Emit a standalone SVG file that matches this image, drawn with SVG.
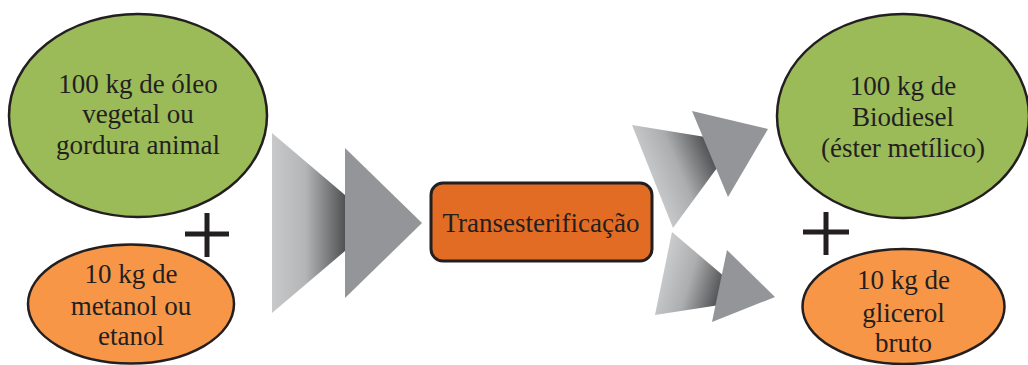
<svg xmlns="http://www.w3.org/2000/svg" width="1028" height="365" viewBox="0 0 1028 365" font-family="Liberation Serif">
  <style>
    text { font-size: 27px; fill: #231f20; }
    .green { fill: #9bbb59; stroke: #231f20; stroke-width: 2.5; }
    .orange { fill: #f79646; stroke: #231f20; stroke-width: 2.5; }
    .box { fill: #e36c25; stroke: #231f20; stroke-width: 3; }
    .plus { stroke: #231f20; stroke-width: 5; fill: none; }
    .solid { fill: #939598; }
  </style>
  <defs>
    <linearGradient id="shadeLeft" gradientUnits="userSpaceOnUse" x1="272" y1="0" x2="346" y2="0">
      <stop offset="0" stop-color="#c8c9cb"/>
      <stop offset="0.45" stop-color="#b4b5b7"/>
      <stop offset="1" stop-color="#4e4f51"/>
    </linearGradient>
    <linearGradient id="shadeUp" gradientUnits="userSpaceOnUse" x1="650" y1="178" x2="712" y2="152">
      <stop offset="0" stop-color="#c8c9cb"/>
      <stop offset="0.45" stop-color="#acadaf"/>
      <stop offset="1" stop-color="#4e4f51"/>
    </linearGradient>
    <linearGradient id="shadeDown" gradientUnits="userSpaceOnUse" x1="663" y1="273" x2="722" y2="291">
      <stop offset="0" stop-color="#c8c9cb"/>
      <stop offset="0.45" stop-color="#acadaf"/>
      <stop offset="1" stop-color="#4e4f51"/>
    </linearGradient>
  </defs>

  <!-- shaded double arrows: input to reactor, reactor to both products -->
  <g id="connectors">
    <polygon points="272,133 378,223 272,313" fill="url(#shadeLeft)"/>
    <polygon class="solid" points="345,148 422,223 345,298"/>
    <polygon points="632,125 736,142 673,228" fill="url(#shadeUp)"/>
    <polygon class="solid" points="692,111 768,129 728,197"/>
    <polygon points="672,232 752,300 655,315" fill="url(#shadeDown)"/>
    <polygon class="solid" points="727,250 775,297 712,322"/>
  </g>

  <g id="oleo">
    <ellipse class="green" cx="138" cy="115.5" rx="129" ry="101.5"/>
    <text x="138" y="93" text-anchor="middle" font-family="Liberation Serif">100 kg de óleo</text>
    <text x="138" y="123" text-anchor="middle" font-family="Liberation Serif">vegetal ou</text>
    <text x="138" y="154" text-anchor="middle" font-family="Liberation Serif">gordura animal</text>
  </g>

  <g id="plus-left">
    <path class="plus" d="M185 234 H229 M207 213 V257"/>
  </g>

  <g id="alcool">
    <ellipse class="orange" cx="131" cy="304" rx="103" ry="59.5"/>
    <text x="131" y="283" text-anchor="middle" font-family="Liberation Serif">10 kg de</text>
    <text x="131" y="315" text-anchor="middle" font-family="Liberation Serif">metanol ou</text>
    <text x="131" y="345" text-anchor="middle" font-family="Liberation Serif">etanol</text>
  </g>

  <g id="transesterificacao">
    <rect class="box" x="431" y="183" width="221" height="78" rx="12" ry="12"/>
    <text x="541" y="232" text-anchor="middle" font-family="Liberation Serif">Transesterificação</text>
  </g>

  <g id="biodiesel">
    <ellipse class="green" cx="903" cy="116" rx="126" ry="102"/>
    <text x="903" y="95" text-anchor="middle" font-family="Liberation Serif">100 kg de</text>
    <text x="903" y="126" text-anchor="middle" font-family="Liberation Serif">Biodiesel</text>
    <text x="903" y="157" text-anchor="middle" font-family="Liberation Serif">(éster metílico)</text>
  </g>

  <g id="plus-right">
    <path class="plus" d="M803 232 H849 M826 212 V255"/>
  </g>

  <g id="glicerol">
    <ellipse class="orange" cx="903.5" cy="306.5" rx="101" ry="57.5"/>
    <text x="903.5" y="289" text-anchor="middle" font-family="Liberation Serif">10 kg de</text>
    <text x="903.5" y="322" text-anchor="middle" font-family="Liberation Serif">glicerol</text>
    <text x="903.5" y="352" text-anchor="middle" font-family="Liberation Serif">bruto</text>
  </g>
</svg>
